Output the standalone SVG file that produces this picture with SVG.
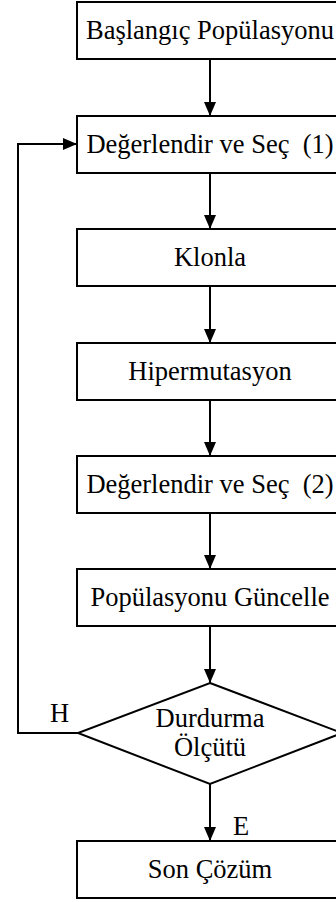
<svg xmlns="http://www.w3.org/2000/svg" width="336" height="902" viewBox="0 0 336 902">
<style>
.box{fill:#fff;stroke:#000;stroke-width:2}
.t{font-family:'Liberation Serif','Times New Roman',serif;font-size:26.5px;fill:#000;text-anchor:middle}
.l{font-family:'Liberation Serif','Times New Roman',serif;font-size:26.5px;fill:#000}
.c{fill:none;stroke:#000;stroke-width:2}
</style>
<defs>
<marker id="ah" markerWidth="14" markerHeight="12" refX="14" refY="6" orient="auto" markerUnits="userSpaceOnUse">
<path d="M0,0 L14,6 L0,12 Z" fill="#000"/>
</marker>
</defs>
<rect width="336" height="902" fill="#fff"/>
<g id="connectors">
<line class="c" x1="210" y1="59" x2="210" y2="116" marker-end="url(#ah)"/>
<line class="c" x1="210" y1="173" x2="210" y2="229" marker-end="url(#ah)"/>
<line class="c" x1="210" y1="286" x2="210" y2="343" marker-end="url(#ah)"/>
<line class="c" x1="210" y1="400" x2="210" y2="456" marker-end="url(#ah)"/>
<line class="c" x1="210" y1="513" x2="210" y2="569" marker-end="url(#ah)"/>
<line class="c" x1="210" y1="626" x2="210" y2="683" marker-end="url(#ah)"/>
<line class="c" x1="210" y1="784" x2="210" y2="841" marker-end="url(#ah)"/>
<polyline class="c" points="78,733 18,733 18,144 77,144" marker-end="url(#ah)"/>
<text class="l" x="50" y="722">H</text>
<text class="l" x="233" y="835">E</text>
</g>
<g id="n1"><rect class="box" x="77" y="2" width="266" height="57"/><text class="t" x="210" y="39">Başlangıç Popülasyonu</text></g>
<g id="n2"><rect class="box" x="77" y="116" width="266" height="57"/><text class="t" x="210" y="153" xml:space="preserve">Değerlendir ve Seç  (1)</text></g>
<g id="n3"><rect class="box" x="77" y="229" width="266" height="57"/><text class="t" x="210" y="266">Klonla</text></g>
<g id="n4"><rect class="box" x="77" y="343" width="266" height="57"/><text class="t" x="210" y="380">Hipermutasyon</text></g>
<g id="n5"><rect class="box" x="77" y="456" width="266" height="57"/><text class="t" x="210" y="493" xml:space="preserve">Değerlendir ve Seç  (2)</text></g>
<g id="n6"><rect class="box" x="77" y="569" width="266" height="57"/><text class="t" x="210" y="606">Popülasyonu Güncelle</text></g>
<g id="n7"><polygon class="box" points="210,683 342,733 210,784 78,733"/><text class="t" x="210" y="727">Durdurma</text><text class="t" x="210" y="756">Ölçütü</text></g>
<g id="n8"><rect class="box" x="77" y="841" width="266" height="57"/><text class="t" x="210" y="878">Son Çözüm</text></g>
</svg>
